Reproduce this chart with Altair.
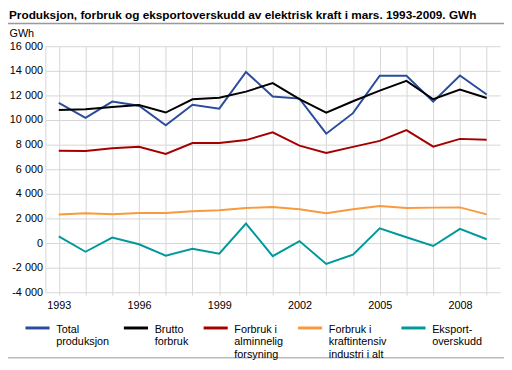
import altair as alt
import pandas as pd

years = list(range(1993, 2010))
total = [11400, 10170, 11500, 11160, 9570, 11240, 10930, 13910, 11920, 11740, 8890, 10560, 13600, 13600, 11500, 13620, 12080]
brutto = [10820, 10880, 11060, 11220, 10610, 11690, 11820, 12310, 13000, 11710, 10610, 11530, 12390, 13180, 11690, 12470, 11790]
alminnelig = [7500, 7480, 7710, 7820, 7240, 8130, 8130, 8370, 9000, 7920, 7320, 7820, 8310, 9180, 7840, 8470, 8390]
kraftintensiv = [2330, 2430, 2350, 2450, 2450, 2590, 2670, 2850, 2930, 2750, 2430, 2750, 3010, 2850, 2880, 2900, 2330]
eksport = [550, -706, 447, -100, -1020, -470, -860, 1590, -1070, 160, -1700, -940, 1200, 470, -240, 1150, 310]

series_names = [
    "Total|produksjon| ",
    "Brutto|forbruk| ",
    "Forbruk i|alminnelig|forsyning",
    "Forbruk i|kraftintensiv|industri i alt",
    "Eksport-|overskudd| ",
]
series_values = [total, brutto, alminnelig, kraftintensiv, eksport]
colors = ["#2a4c9c", "#000000", "#a50000", "#f99a3c", "#00999a"]
y_ticks = list(range(-4000, 16001, 2000))
title_text = ["Produksjon, forbruk og eksportoverskudd av elektrisk kraft i mars. 1993-2009. GWh"]

rows = []
for name, vals in zip(series_names, series_values):
    for yr, v in zip(years, vals):
        rows.append({"year": yr, "value": v, "serie": name})
df = pd.DataFrame(rows)

FONT = "Liberation Sans"
W, H = 462, 250
GRID = "#d6d6d6"

lines = alt.Chart(df).mark_line(strokeWidth=2, clip=False).encode(
    x=alt.X(
        "year:Q",
        scale=alt.Scale(domain=[1992.5, 2009.5], nice=False, zero=False),
        axis=alt.Axis(
            values=years,
            labelExpr="(datum.value - 1993) % 3 == 0 ? datum.value : ''",
            format="d",
            title=None,
            grid=True,
            gridColor=GRID,
            domain=False,
            ticks=True,
            tickSize=3,
            tickColor=GRID,
            labelPadding=4,
            labelFont=FONT,
            labelFontSize=11,
            labelColor="#000000",
            labelOverlap=False,
        ),
    ),
    y=alt.Y(
        "value:Q",
        scale=alt.Scale(domain=[-4000, 16000], nice=False),
        axis=alt.Axis(
            values=y_ticks,
            labelExpr="datum.value < 0 ? '-' + replace(format(-datum.value, ','), ',', ' ') : replace(format(datum.value, ','), ',', ' ')",
            title="GWh",
            titleAngle=0,
            titleX=-37,
            titleY=-10,
            titleAlign="left",
            titleBaseline="alphabetic",
            titleFont=FONT,
            titleFontSize=11,
            titleFontWeight="normal",
            titleColor="#000000",
            grid=True,
            gridColor=GRID,
            domain=True,
            domainColor=GRID,
            ticks=False,
            labelPadding=3,
            labelFont=FONT,
            labelFontSize=11,
            labelColor="#000000",
        ),
    ),
    color=alt.Color(
        "serie:N",
        sort=series_names,
        scale=alt.Scale(domain=series_names, range=colors),
        legend=alt.Legend(
            title=None,
            orient="none",
            legendX=-22,
            legendY=268,
            direction="horizontal",
            columns=5,
            columnPadding=8,
            symbolType="M-1,0.35L1,0.35",
            symbolSize=600,
            symbolStrokeWidth=3,
            labelExpr="split(datum.label, '|')",
            labelBaseline="top",
            labelOffset=5,
            labelFont=FONT,
            labelFontSize=11,
            labelColor="#000000",
            labelLimit=200,
        ),
    ),
)

title_df = pd.DataFrame({"t": title_text})
title_mark = alt.Chart(title_df).mark_text(
    align="left", baseline="alphabetic", font=FONT, fontSize=12, fontWeight="bold", color="#000000"
).encode(text="t:N", x=alt.value(-37), y=alt.value(-28))

rule_top = alt.Chart(title_df).mark_rule(color="#999999", strokeWidth=1.5, clip=False).encode(
    x=alt.value(-38), x2=alt.value(466), y=alt.value(-23)
)
rule_bottom = alt.Chart(title_df).mark_rule(color="#bbbbbb", strokeWidth=1.5, clip=False).encode(
    x=alt.value(-38), x2=alt.value(466), y=alt.value(316.5)
)

chart = alt.layer(lines, title_mark, rule_top, rule_bottom).properties(
    width=W,
    height=H,
    autosize=alt.AutoSizeParams(type="none"),
    padding={"left": 38, "top": 36, "right": 4, "bottom": 68},
).configure_view(stroke=None)

chart.save("out.html", embed_options={"renderer": "svg", "actions": False})
